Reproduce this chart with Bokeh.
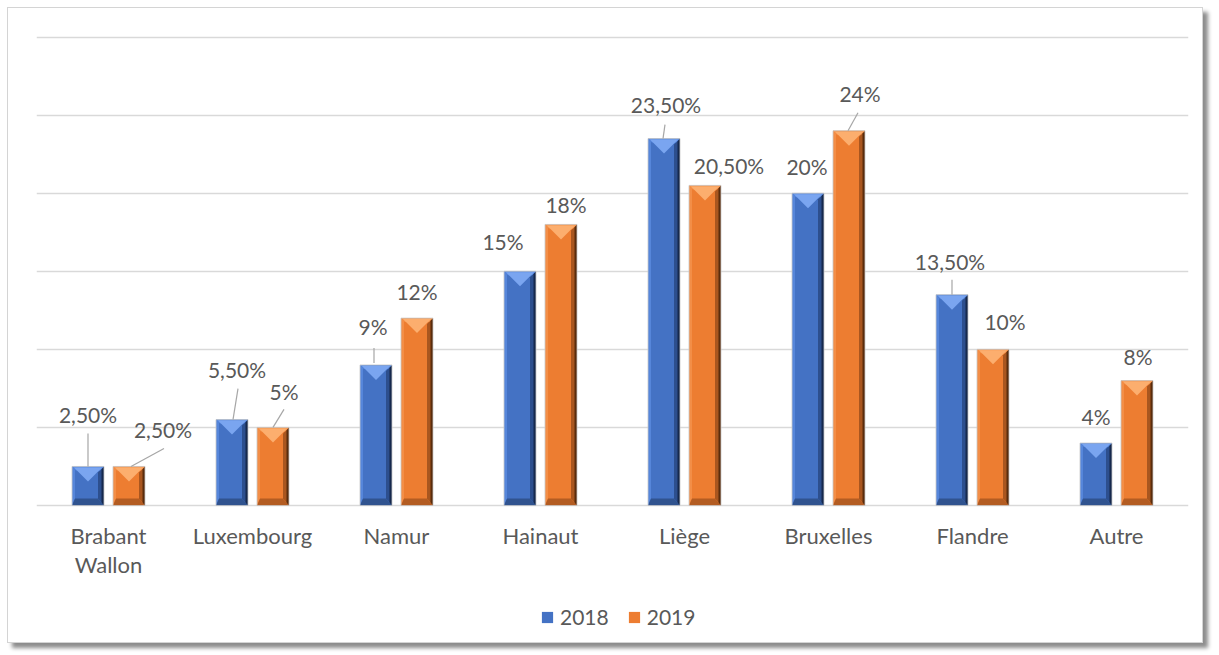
import numpy as np
from bokeh.plotting import figure
from bokeh.models import Range1d, FixedTicker, Legend, LegendItem, ColumnDataSource
from bokeh.core.properties import value
from bokeh.embed import file_html
from bokeh.resources import INLINE

# ---------------- data ----------------
categories = ["Brabant\nWallon", "Luxembourg", "Namur", "Hainaut", "Liège",
              "Bruxelles", "Flandre", "Autre"]
series_names = ["2018", "2019"]
values_2018 = [2.5, 5.5, 9, 15, 23.5, 20, 13.5, 4]
values_2019 = [2.5, 5, 12, 18, 20.5, 24, 10, 8]
y_ticks = [0, 5, 10, 15, 20, 25, 30]

# ---------------- layout / style ----------------
N = len(categories)
FRAME_W = 1152
PX_PER_UNIT_Y = 470 / 30.1
Y_TOP = 30.1
EXTRA_BELOW_PX = 135          # frame extends below the zero line (room for labels + legend)
Y_BOT = -EXTRA_BELOW_PX / PX_PER_UNIT_Y
PXX = N / FRAME_W             # data units per pixel (x)
PXY = 1 / PX_PER_UNIT_Y       # data units per pixel (y)
BAR_W_PX = 32
OFFSETS = [-20.5 * PXX, 20.5 * PXX]
FONT = "Lato"
TXT = "#595959"
LABEL_RAISE = 2

# label offsets (px, dx right, dy up from bar-top centre)
label_off_2018 = [(0, 50), (5, 48), (-3, 36), (-17, 28), (2, 32), (-1, 25), (-2, 31), (0, 25)]
label_off_2019 = [(34, 35), (11, 34), (0, 25), (5, 18), (24, 18), (11, 35), (12, 26), (1, 22)]
# leader lines (px from bar-top centre): (x0, y0up, x1, y1up) or None
leader_2018 = [(0, 0, 0, 33), (1, 0, 6, 31), (-2, 2, -2, 17), None, (-1, 0, 1, 14), None, (0, 0, 0, 15), None]
leader_2019 = [(2, 0, 35, 18), (0, 0, 11, 18), None, None, None, (-1, 0, 9, 18), None, None]

palettes = [
    dict(face="#4472C4", left="#5686DA", right1="#2D4F8E", right2="#16294D",
         bottom="#30538F", top="#7AA5F0", top2="#5A8BE0"),
    dict(face="#ED7D31", left="#F38E47", right1="#A9561F", right2="#5A2C0C",
         bottom="#B35C22", top="#FCAE6E", top2="#F5964F"),
]

p = figure(width=1196, height=636, output_backend="svg", toolbar_location=None,
           x_range=Range1d(0, N), y_range=Range1d(Y_BOT, Y_TOP),
           min_border_left=28, min_border_right=16, min_border_top=27, min_border_bottom=4)
p.styles = {"border": "1px solid #d4d4d4",
            "margin-left": "7px", "margin-top": "7px",
            "box-shadow": "5px 5px 4px rgba(0,0,0,0.45)"}
p.outline_line_color = None
p.background_fill_color = "white"
p.border_fill_color = "white"

p.yaxis.visible = False
p.xgrid.visible = False
p.ygrid.ticker = FixedTicker(ticks=y_ticks)
p.ygrid.grid_line_color = "#d9d9d9"
p.ygrid.grid_line_width = 1.4

xticks = [i + 0.5 for i in range(N)]
p.xaxis.fixed_location = 0
p.xaxis.ticker = FixedTicker(ticks=xticks)
p.xaxis.major_label_overrides = {t: c for t, c in zip(xticks, categories)}
p.xaxis.axis_line_color = None
p.xaxis.major_tick_line_color = None
p.xaxis.minor_tick_line_color = None
p.xaxis.major_tick_out = 0
p.xaxis.major_tick_in = 0
p.xaxis.major_label_standoff = 16
p.xaxis.major_label_text_font = FONT
p.xaxis.major_label_text_font_size = "22px"
p.xaxis.major_label_text_line_height = 1.1
p.xaxis.major_label_text_color = TXT


def fmt(v):
    if float(v).is_integer():
        return f"{int(v)}%"
    return f"{v:.2f}".replace(".", ",") + "%"


legend_items = []
all_series = [values_2018, values_2019]
all_label_off = [label_off_2018, label_off_2019]
all_leaders = [leader_2018, leader_2019]

for s, vals in enumerate(all_series):
    pal = palettes[s]
    xc = np.arange(N) + 0.5 + OFFSETS[s]
    vals = np.asarray(vals, dtype=float)
    hw = BAR_W_PX / 2 * PXX
    base = p.vbar(x=xc, top=vals, bottom=0, width=BAR_W_PX * PXX,
                  fill_color=pal["face"], line_color=None)
    legend_items.append(LegendItem(label=series_names[s], renderers=[base]))

    facets = {k: ([], []) for k in ["right1", "right2", "left", "bottom", "top", "top2"]}
    for x, v in zip(xc, vals):
        x0, x1 = x - hw, x + hw
        hpx = v / PXY
        b = 7 * PXY
        t = min(15, 0.45 * hpx) * PXY
        facets["right1"][0].append([x1, x1, x1 - 6 * PXX, x1 - 6 * PXX])
        facets["right1"][1].append([v, 0, b, v - 6 * PXY])
        facets["right2"][0].append([x1, x1, x1 - 2.5 * PXX, x1 - 2.5 * PXX])
        facets["right2"][1].append([v, 0, 2.5 * PXY, v - 2.5 * PXY])
        facets["left"][0].append([x0, x0, x0 + 3 * PXX, x0 + 3 * PXX])
        facets["left"][1].append([v, 0, b, v - 3 * PXY])
        facets["bottom"][0].append([x0, x1, x1 - 6 * PXX, x0 + 3 * PXX])
        facets["bottom"][1].append([0, 0, b, b])
        facets["top2"][0].append([x0, x1, x1 - 4 * PXX, x0 + 4 * PXX])
        facets["top2"][1].append([v, v, v - 4 * PXY, v - 4 * PXY])
        facets["top"][0].append([x0 + 2 * PXX, x1 - 2 * PXX, x])
        facets["top"][1].append([v - 1 * PXY, v - 1 * PXY, v - t])
    for k in ["right1", "right2", "left", "bottom", "top2", "top"]:
        xs, ys = facets[k]
        p.patches(xs=xs, ys=ys, fill_color=pal[k], line_color=None)
    p.vbar(x=xc, top=vals, bottom=0, width=BAR_W_PX * PXX,
           fill_color=None, line_color="#c8c8c8", line_width=0.8)

    # leader lines
    lx0, ly0, lx1, ly1 = [], [], [], []
    for x, v, ld in zip(xc, vals, all_leaders[s]):
        if ld is None:
            continue
        lx0.append(x + ld[0] * PXX)
        ly0.append(v + ld[1] * PXY)
        lx1.append(x + ld[2] * PXX)
        ly1.append(v + ld[3] * PXY)
    if lx0:
        p.segment(x0=lx0, y0=ly0, x1=lx1, y1=ly1, line_color="#a6a6a6", line_width=1.2)

    src = ColumnDataSource(dict(
        x=xc, y=vals, text=[fmt(v) for v in vals],
        dx=[o[0] for o in all_label_off[s]],
        dy=[-(o[1] + LABEL_RAISE) for o in all_label_off[s]],
    ))
    p.text(x="x", y="y", text="text", x_offset="dx", y_offset="dy", source=src,
           text_font=value(FONT), text_font_size=value("21px"), text_color=TXT,
           text_align="center", text_baseline="middle")

legend = Legend(items=legend_items, orientation="horizontal", location=(504, 11),
                glyph_width=14, glyph_height=14, label_height=20, label_standoff=6,
                spacing=18, padding=0, margin=0, border_line_color=None,
                background_fill_alpha=0, label_text_font=FONT,
                label_text_font_size="21px", label_text_color=TXT)
p.add_layout(legend, "center")

open("out.html", "w").write(file_html(p, INLINE))
